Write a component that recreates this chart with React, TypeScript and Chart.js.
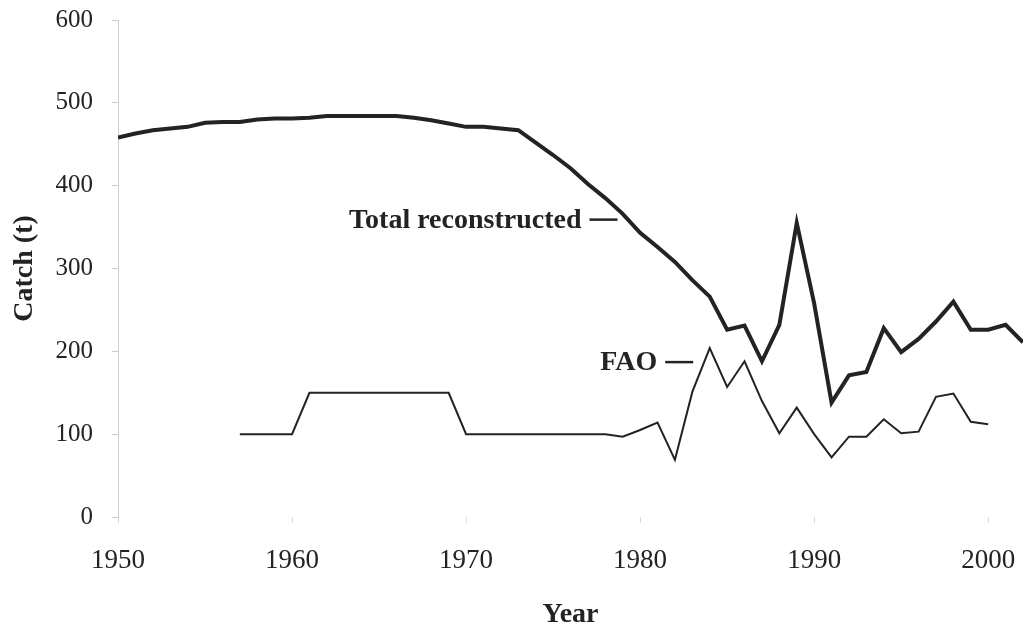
import React, { useEffect, useRef } from "react";
import { Chart, registerables } from "chart.js";

Chart.register(...registerables);

const years: number[] = [
  1950, 1951, 1952, 1953, 1954, 1955, 1956, 1957, 1958, 1959,
  1960, 1961, 1962, 1963, 1964, 1965, 1966, 1967, 1968, 1969,
  1970, 1971, 1972, 1973, 1974, 1975, 1976, 1977, 1978, 1979,
  1980, 1981, 1982, 1983, 1984, 1985, 1986, 1987, 1988, 1989,
  1990, 1991, 1992, 1993, 1994, 1995, 1996, 1997, 1998, 1999,
  2000, 2001, 2002,
];

const totalReconstructed: number[] = [
  458, 463, 467, 469, 471, 476, 477, 477, 480, 481,
  481, 482, 484, 484, 484, 484, 484, 482, 479, 475,
  471, 471, 469, 467, 452, 437, 421, 402, 385, 366,
  343, 326, 308, 286, 266, 226, 231, 188, 232, 355,
  258, 138, 171, 175, 228, 199, 215, 236, 260, 226,
  226, 232, 211,
];

const faoCatch: (number | null)[] = [
  null, null, null, null, null, null, null, 100, 100, 100,
  100, 150, 150, 150, 150, 150, 150, 150, 150, 150,
  100, 100, 100, 100, 100, 100, 100, 100, 100, 97,
  105, 114, 69, 151, 204, 157, 188, 140, 101, 132,
  100, 72, 97, 97, 118, 101, 103, 145, 149, 115,
  112, null, null,
];

const yTicks: number[] = [0, 100, 200, 300, 400, 500, 600];
const xTicks: number[] = [1950, 1960, 1970, 1980, 1990, 2000];

// Series label annotations, anchored at the end of their leader dash (data coords)
const seriesLabels = [
  { text: "Total reconstructed", year: 1978.7, value: 359 },
  { text: "FAO", year: 1983.05, value: 187 },
];

const SERIF = "'Liberation Serif', 'Times New Roman', serif";
const INK = "#232323";

const labelPlugin = {
  id: "seriesLabels",
  afterDatasetsDraw(chart: any) {
    const { ctx, scales } = chart;
    const xs = scales.x;
    const ys = scales.y;
    ctx.save();
    for (const l of seriesLabels) {
      const xEnd = xs.getPixelForValue(l.year);
      const y = ys.getPixelForValue(l.value);
      const dashLen = 28;
      const gap = 8;
      ctx.strokeStyle = INK;
      ctx.lineWidth = 2.5;
      ctx.beginPath();
      ctx.moveTo(xEnd - dashLen, y);
      ctx.lineTo(xEnd, y);
      ctx.stroke();
      ctx.fillStyle = INK;
      ctx.font = `bold 28px ${SERIF}`;
      ctx.textAlign = "right";
      ctx.textBaseline = "middle";
      ctx.fillText(l.text, xEnd - dashLen - gap, y + 1);
    }
    ctx.restore();
  },
};

export default function App() {
  const canvasRef = useRef<HTMLCanvasElement | null>(null);

  useEffect(() => {
    if (!canvasRef.current) return;
    const totalPts = years.map((yr, i) => ({ x: yr, y: totalReconstructed[i] }));
    const faoPts = years.map((yr, i) => ({ x: yr, y: faoCatch[i] }));

    const chart = new Chart(canvasRef.current, {
      type: "line",
      data: {
        datasets: [
          {
            label: "Total reconstructed",
            data: totalPts as any,
            borderColor: INK,
            borderWidth: 4,
            pointRadius: 0,
            tension: 0,
            fill: false,
          },
          {
            label: "FAO",
            data: faoPts as any,
            borderColor: INK,
            borderWidth: 2,
            pointRadius: 0,
            tension: 0,
            fill: false,
            spanGaps: false,
          },
        ],
      },
      options: {
        responsive: false,
        animation: false,
        layout: { padding: { top: 20, right: 1, left: 0, bottom: 0 } },
        plugins: {
          legend: { display: false },
          tooltip: { enabled: false },
        },
        scales: {
          x: {
            type: "linear",
            min: 1950,
            max: 2002,
            afterBuildTicks: (scale: any) => {
              scale.ticks = xTicks.map((v) => ({ value: v }));
            },
            afterFit: (scale: any) => {
              scale.height = 112;
              scale.paddingLeft = 0;
              scale.paddingRight = 0;
            },
            grid: {
              display: true,
              drawOnChartArea: false,
              drawTicks: true,
              tickLength: 6,
              color: "#d8d8d8",
            },
            border: { display: false },
            ticks: {
              padding: 22,
              color: INK,
              font: { family: SERIF, size: 27 },
              maxRotation: 0,
              callback: (v: any) => String(v),
            },
            title: {
              display: true,
              text: "Year",
              color: INK,
              font: { family: SERIF, size: 28, weight: "bold" },
              padding: { top: 0, bottom: -3 },
            },
          },
          y: {
            type: "linear",
            min: 0,
            max: 600,
            afterBuildTicks: (scale: any) => {
              scale.ticks = yTicks.map((v) => ({ value: v }));
            },
            afterFit: (scale: any) => {
              scale.width = 118;
              scale.paddingTop = 0;
              scale.paddingBottom = 0;
            },
            grid: {
              display: true,
              drawOnChartArea: false,
              drawTicks: true,
              tickLength: 6,
              color: "#c8c8c8",
            },
            border: { display: true, color: "#cfcfcf", width: 1 },
            ticks: {
              padding: 19,
              color: INK,
              font: { family: SERIF, size: 25 },
            },
            title: {
              display: true,
              text: "Catch (t)",
              color: INK,
              font: { family: SERIF, size: 28, weight: "bold" },
              padding: { top: 8, bottom: 0 },
            },
          },
        },
      },
      plugins: [labelPlugin],
    });

    return () => chart.destroy();
  }, []);

  return (
    <div style={{ position: "absolute", left: 0, top: 0, width: 1024, height: 629, background: "#fff" }}>
      <canvas ref={canvasRef} width={1024} height={629} />
    </div>
  );
}
